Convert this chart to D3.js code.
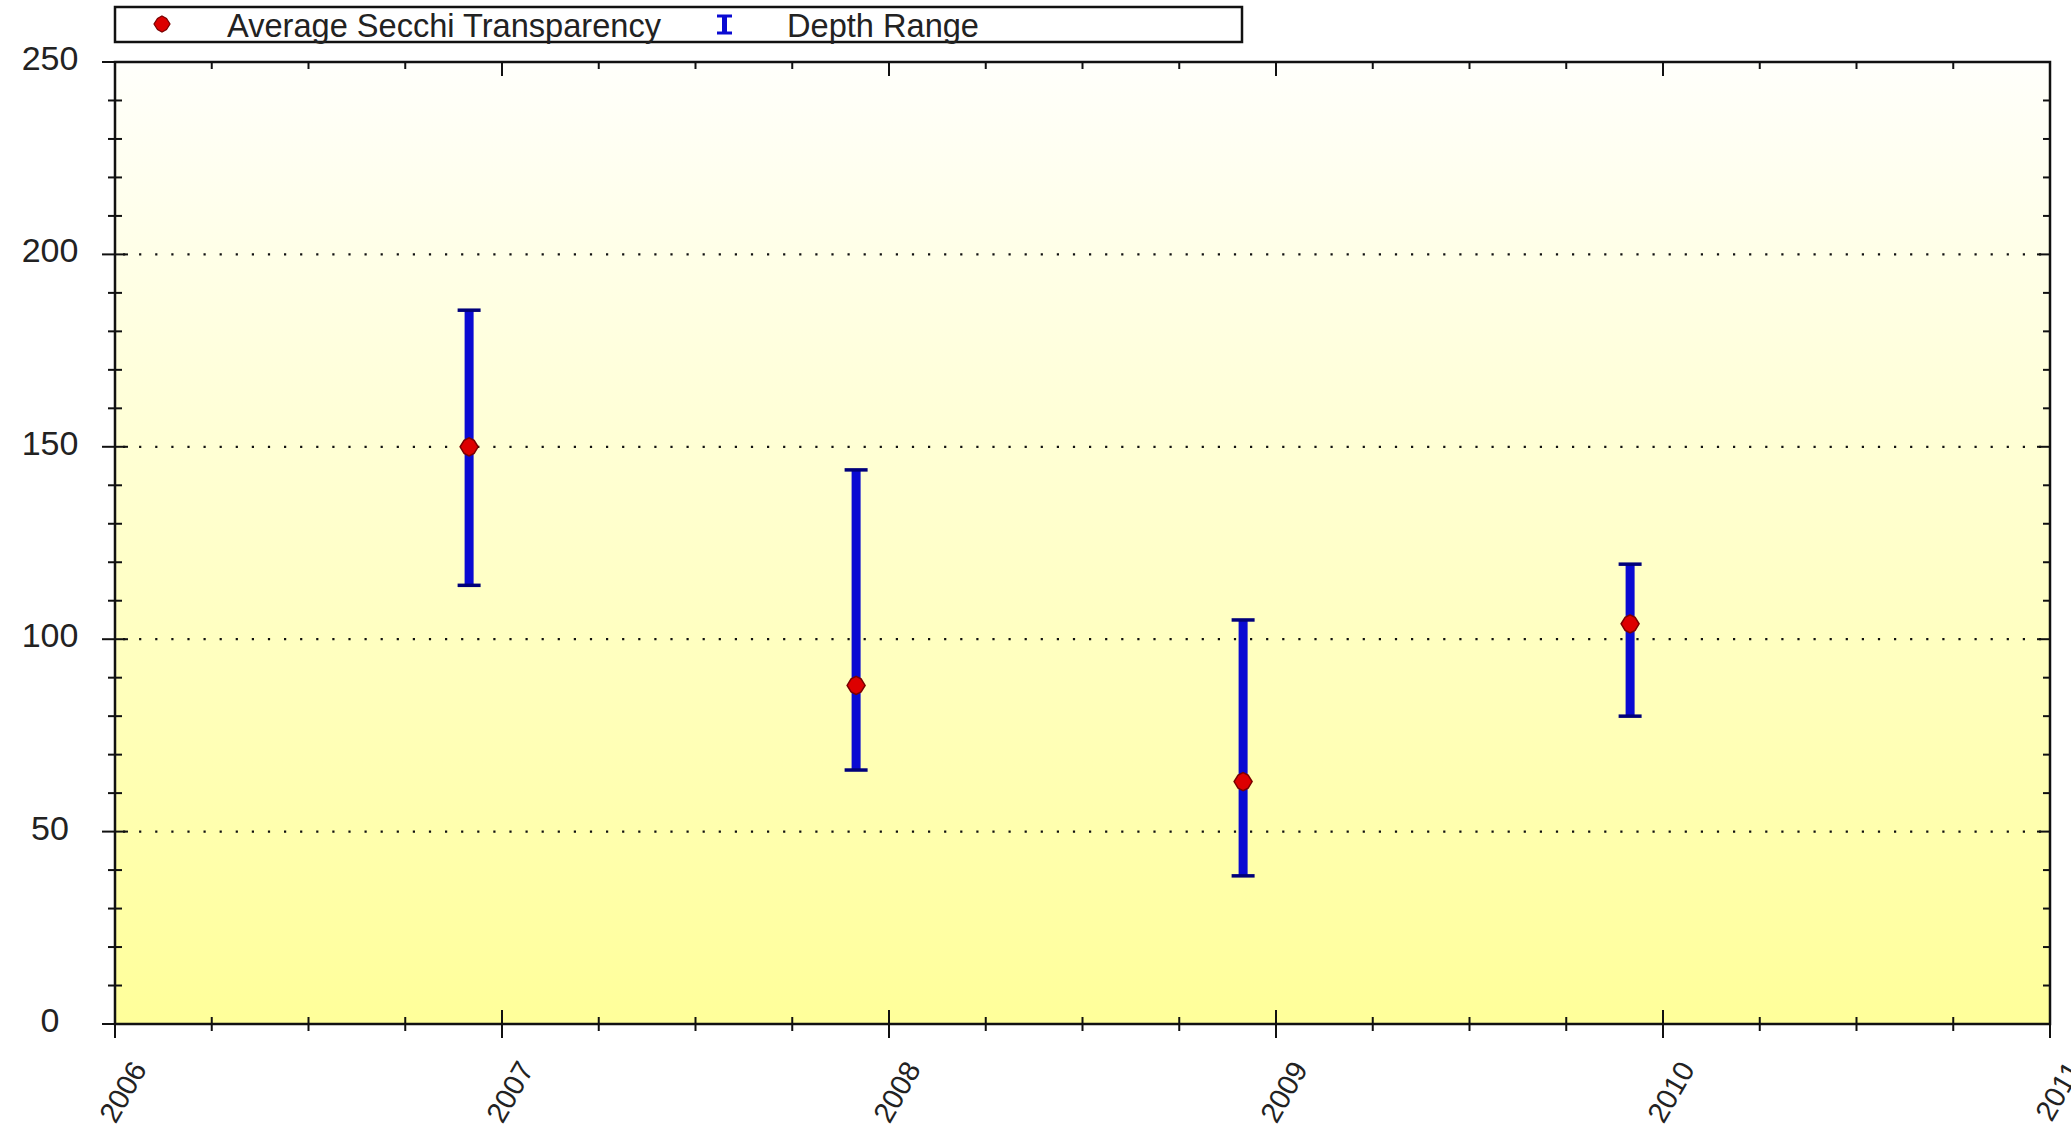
<!DOCTYPE html>
<html>
<head>
<meta charset="utf-8">
<script src="https://cdn.jsdelivr.net/npm/d3@7"></script>
<style>
  html, body { margin: 0; padding: 0; background: #ffffff; overflow: hidden; }
  svg { display: block; }
  text { font-family: "Liberation Sans", Arial, sans-serif; fill: #222; }
</style>
</head>
<body>
<svg id="chart" width="2071" height="1138"></svg>
<script>
// ---- data ----
const years = [2006, 2007, 2008, 2009, 2010, 2011];
const sampleTimes = [2006.915, 2007.915, 2008.915, 2009.915];
const avgSecchi = [150, 88, 63, 104];
const depthMin = [114, 66, 38.5, 80];
const depthMax = [185.5, 144, 105, 119.5];
const yTicks = [0, 50, 100, 150, 200, 250];
const gridValues = [50, 100, 150, 200];
const legendLabels = ["Average Secchi Transparency", "Depth Range"];

(function () {
// ---- layout ----
const pLeft = 115, pRight = 2050, pTop = 62, pBottom = 1024;
const svg = d3.select("#chart");

const x = d3.scaleLinear().domain([2006, 2011]).range([pLeft, pRight]);
const y = d3.scaleLinear().domain([0, 250]).range([pBottom, pTop]);

// background gradient
const defs = svg.append("defs");
const grad = defs.append("linearGradient").attr("id", "bg").attr("x1", 0).attr("y1", 0).attr("x2", 0).attr("y2", 1);
grad.append("stop").attr("offset", "0%").attr("stop-color", "#fffffb");
grad.append("stop").attr("offset", "100%").attr("stop-color", "#ffff9a");

svg.append("rect").attr("x", pLeft).attr("y", pTop)
  .attr("width", pRight - pLeft).attr("height", pBottom - pTop)
  .attr("fill", "url(#bg)");

// grid lines
svg.append("g").selectAll("line").data(gridValues).join("line")
  .attr("x1", pLeft + 8).attr("x2", pRight - 4)
  .attr("y1", d => y(d)).attr("y2", d => y(d))
  .attr("stroke", "#111").attr("stroke-width", 2.2)
  .attr("stroke-dasharray", "2.2,13.9");

// ticks
const minorY = d3.range(0, 251, 10).filter(v => v % 50 !== 0);
const majorY = yTicks;
const minorX = d3.range(2006, 2011.001, 0.25).filter(v => Math.abs(v - Math.round(v)) > 1e-6);
const majorX = years;
const axisG = svg.append("g").attr("stroke", "#111").attr("stroke-width", 2);

// left axis
axisG.selectAll(".ymin").data(minorY).join("line")
  .attr("x1", pLeft - 7).attr("x2", pLeft + 7).attr("y1", d => y(d)).attr("y2", d => y(d));
axisG.selectAll(".ymaj").data(majorY).join("line")
  .attr("x1", pLeft - 13).attr("x2", pLeft + 13).attr("y1", d => y(d)).attr("y2", d => y(d));
// right axis (inward)
axisG.selectAll(".rymin").data(minorY).join("line")
  .attr("x1", pRight - 7).attr("x2", pRight).attr("y1", d => y(d)).attr("y2", d => y(d));
axisG.selectAll(".rymaj").data(majorY).join("line")
  .attr("x1", pRight - 13).attr("x2", pRight).attr("y1", d => y(d)).attr("y2", d => y(d));
// bottom axis
axisG.selectAll(".xmin").data(minorX).join("line")
  .attr("x1", d => x(d)).attr("x2", d => x(d)).attr("y1", pBottom - 7).attr("y2", pBottom + 7);
axisG.selectAll(".xmaj").data(majorX).join("line")
  .attr("x1", d => x(d)).attr("x2", d => x(d)).attr("y1", pBottom - 14).attr("y2", pBottom + 14);
// top axis (inward)
axisG.selectAll(".txmin").data(minorX).join("line")
  .attr("x1", d => x(d)).attr("x2", d => x(d)).attr("y1", pTop).attr("y2", pTop + 7);
axisG.selectAll(".txmaj").data(majorX).join("line")
  .attr("x1", d => x(d)).attr("x2", d => x(d)).attr("y1", pTop).attr("y2", pTop + 14);

// frame
axisG.append("rect").attr("x", pLeft).attr("y", pTop)
  .attr("width", pRight - pLeft).attr("height", pBottom - pTop)
  .attr("fill", "none").attr("stroke-width", 2.5);

// y labels
svg.append("g").selectAll("text").data(yTicks).join("text")
  .attr("x", 50).attr("y", d => y(d) - 4)
  .attr("text-anchor", "middle").attr("dominant-baseline", "central")
  .attr("font-size", 34)
  .text(d => d);

// x labels
svg.append("g").selectAll("text").data(years).join("text")
  .attr("transform", d => `translate(${x(d) + 24},${pBottom + 40}) rotate(-60)`)
  .attr("text-anchor", "end").attr("dominant-baseline", "central")
  .attr("font-size", 29)
  .text(d => d);

// error bars
const bars = svg.append("g");
sampleTimes.forEach((t, i) => {
  const cx = x(t);
  bars.append("rect")
    .attr("x", cx - 4.5).attr("y", y(depthMax[i]))
    .attr("width", 9).attr("height", y(depthMin[i]) - y(depthMax[i]))
    .attr("fill", "#0a0ad2");
  [depthMax[i], depthMin[i]].forEach(v => {
    bars.append("line")
      .attr("x1", cx - 11.5).attr("x2", cx + 11.5)
      .attr("y1", y(v)).attr("y2", y(v))
      .attr("stroke", "#00007a").attr("stroke-width", 3.5);
  });
});

// markers
const markerPath = "M0,-9 L5,-6.5 L9,0 L5,6.5 L0,9 L-5,6.5 L-9,0 L-5,-6.5 Z";
svg.append("g").selectAll("path").data(sampleTimes).join("path")
  .attr("transform", (d, i) => `translate(${x(d)},${y(avgSecchi[i])})`)
  .attr("d", markerPath)
  .attr("fill", "#dd0000").attr("stroke", "#7a0000").attr("stroke-width", 1.5);

// legend
const lg = svg.append("g");
lg.append("rect").attr("x", 115).attr("y", 7).attr("width", 1127).attr("height", 35)
  .attr("fill", "#fff").attr("stroke", "#111").attr("stroke-width", 2.5);
lg.append("path").attr("transform", "translate(162,24)")
  .attr("d", "M0,-8 L4.5,-5.5 L8,0 L4.5,5.5 L0,8 L-4.5,5.5 L-8,0 L-4.5,-5.5 Z")
  .attr("fill", "#dd0000").attr("stroke", "#7a0000").attr("stroke-width", 1.2);
lg.append("text").attr("x", 227).attr("y", 25).attr("dominant-baseline", "central")
  .attr("font-size", 32.6).text(legendLabels[0]);
// error-bar icon
lg.append("rect").attr("x", 722).attr("y", 16).attr("width", 5).attr("height", 17).attr("fill", "#0a0ad2");
lg.append("line").attr("x1", 717).attr("x2", 732).attr("y1", 16).attr("y2", 16).attr("stroke", "#0a0ad2").attr("stroke-width", 3);
lg.append("line").attr("x1", 717).attr("x2", 732).attr("y1", 33).attr("y2", 33).attr("stroke", "#0a0ad2").attr("stroke-width", 3);
lg.append("text").attr("x", 787).attr("y", 25).attr("dominant-baseline", "central")
  .attr("font-size", 32.6).text(legendLabels[1]);
})();
</script>
</body>
</html>
